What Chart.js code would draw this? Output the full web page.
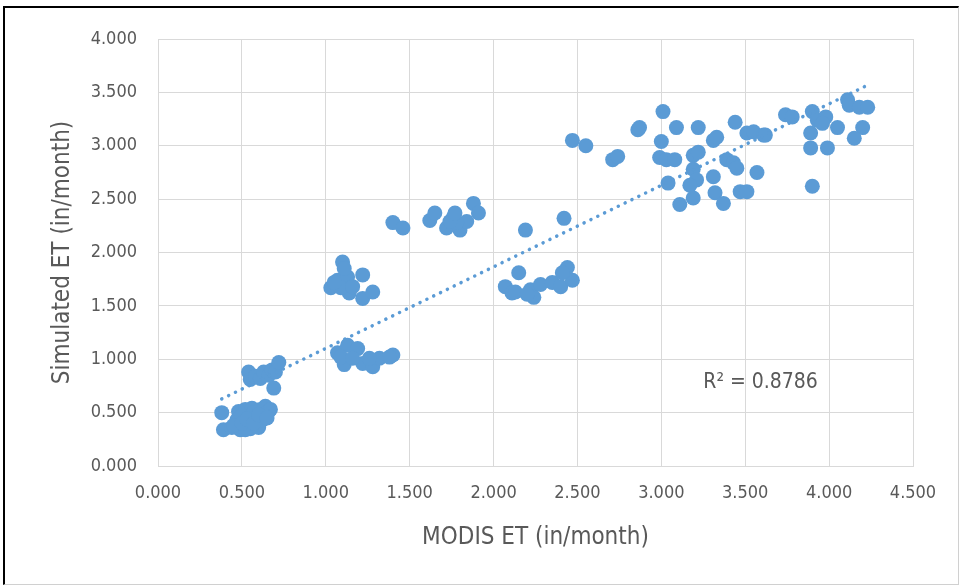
<!DOCTYPE html>
<html>
<head>
<meta charset="utf-8">
<script src="https://cdn.jsdelivr.net/npm/chart.js@4"></script>
<style>
  body { margin: 0; background: #fff; }
  #wrap { position: relative; width: 961px; height: 586px; }
  #frame {
    position: absolute; left: 3px; top: 6px; width: 953px; height: 576px;
    border-left: 2px solid #000; border-top: 2px solid #000;
    border-right: 1px solid #d0d0d0; border-bottom: 1px solid #d0d0d0;
    pointer-events: none;
  }
</style>
</head>
<body>
<div id="wrap">
  <canvas id="etChart" width="961" height="586"></canvas>
  <div id="frame"></div>
</div>
<script>
// MODIS ET vs simulated ET, in/month
const modisET = [
  0.38, 0.39, 0.44, 0.48, 0.49, 0.52, 0.54, 0.55, 0.56, 0.58, 0.60, 0.61, 0.62, 0.64, 0.66, 0.67,
  0.54, 0.55, 0.58, 0.61, 0.63, 0.66, 0.68, 0.70, 0.72, 0.69, 0.47, 0.52, 0.50, 0.57, 0.63,
  0.45, 0.50, 0.53, 0.57, 0.60, 0.65,
  1.10, 1.03, 1.07, 1.13, 1.14, 1.22, 1.22, 1.28, 1.09, 1.16, 1.11, 1.05,
  1.07, 1.13, 1.19, 1.11, 1.22, 1.28, 1.32, 1.40, 1.09, 1.16, 1.26, 1.38,
  1.40, 1.46, 1.62, 1.65, 1.72, 1.76, 1.80, 1.84, 1.88, 1.91, 1.78, 1.74, 1.77,
  2.15, 2.07, 2.11, 2.22, 2.24, 2.28, 2.35, 2.40, 2.44, 2.47, 2.41, 2.19, 2.42, 2.13, 2.20,
  2.47, 2.55, 2.71, 2.74, 2.86, 2.87, 3.01, 3.00, 2.99, 3.03, 3.08, 3.09, 3.19, 3.22, 3.22,
  3.31, 3.33, 3.39, 3.43, 3.45, 3.44, 3.51, 3.55, 3.61, 3.19, 3.21, 3.31, 3.57, 3.04, 3.17,
  3.19, 3.32, 3.37, 3.47, 3.51, 3.11, 3.62, 3.74, 3.78, 3.90, 3.93, 3.98, 3.96, 4.05, 3.89,
  3.89, 3.99, 4.11, 4.12, 4.18, 4.23, 4.20, 4.15, 3.90
];
const simulatedET = [
  0.50, 0.34, 0.36, 0.51, 0.34, 0.53, 0.38, 0.35, 0.54, 0.45, 0.36, 0.53, 0.43, 0.56, 0.51, 0.53,
  0.88, 0.81, 0.84, 0.82, 0.88, 0.85, 0.90, 0.88, 0.97, 0.73, 0.43, 0.34, 0.47, 0.50, 0.48,
  0.38, 0.40, 0.44, 0.40, 0.48, 0.45,
  1.91, 1.67, 1.74, 1.77, 1.62, 1.79, 1.57, 1.63, 1.67, 1.68, 1.85, 1.72,
  1.06, 1.13, 1.10, 0.95, 0.96, 0.93, 1.01, 1.04, 1.02, 1.01, 1.01, 1.02,
  2.28, 2.23, 2.30, 2.37, 2.23, 2.33, 2.21, 2.29, 2.46, 2.37, 2.28, 2.29, 2.37,
  1.81, 1.68, 1.62, 1.65, 1.58, 1.70, 1.72, 1.68, 1.86, 1.74, 1.81, 2.21, 2.32, 1.63, 1.61,
  3.05, 3.00, 2.87, 2.90, 3.15, 3.17, 3.32, 3.04, 2.89, 2.87, 2.87, 3.17, 2.91, 2.94, 3.17,
  3.05, 3.08, 2.87, 2.84, 2.79, 3.22, 3.12, 3.13, 3.10, 2.78, 2.68, 2.71, 2.75, 2.65, 2.63,
  2.51, 2.56, 2.46, 2.57, 2.57, 2.45, 3.10, 3.29, 3.27, 3.32, 3.24, 3.27, 3.21, 3.17, 3.12,
  2.98, 2.98, 3.43, 3.38, 3.36, 3.36, 3.17, 3.07, 2.62
];
const xTicks = [0, 0.5, 1, 1.5, 2, 2.5, 3, 3.5, 4, 4.5];
const yTicks = [0, 0.5, 1, 1.5, 2, 2.5, 3, 3.5, 4];
const r2Label = 'R² = 0.8786';

const points = modisET.map((x, i) => ({ x: x, y: simulatedET[i] }));

// Linear least-squares trendline, drawn over the data's x range
const n = modisET.length;
const mx = modisET.reduce((a, b) => a + b, 0) / n;
const my = simulatedET.reduce((a, b) => a + b, 0) / n;
let sxy = 0, sxx = 0;
modisET.forEach((x, i) => { sxy += (x - mx) * (simulatedET[i] - my); sxx += (x - mx) * (x - mx); });
const slope = sxy / sxx;
const intercept = my - slope * mx;
const xMin = Math.min(...modisET), xMax = Math.max(...modisET);
const trend = [
  { x: xMin, y: intercept + slope * xMin },
  { x: xMax, y: intercept + slope * xMax }
];

const FONT = "'DejaVu Sans Condensed', 'Liberation Sans', sans-serif";
const TEXT = '#595959';
const GRID = '#d9d9d9';

const r2Plugin = {
  id: 'r2Plugin',
  afterDatasetsDraw(chart) {
    const { ctx, scales } = chart;
    ctx.save();
    ctx.font = '21px ' + FONT;
    ctx.fillStyle = TEXT;
    ctx.textAlign = 'left';
    ctx.textBaseline = 'middle';
    ctx.fillText(r2Label, scales.x.getPixelForValue(3.25), scales.y.getPixelForValue(0.78));
    ctx.restore();
  }
};

new Chart(document.getElementById('etChart'), {
  type: 'scatter',
  data: {
    datasets: [
      {
        label: 'ET',
        data: points,
        backgroundColor: '#5b9bd5',
        borderWidth: 0,
        pointRadius: 7.5,
        order: 2
      },
      {
        type: 'line',
        label: 'Linear trend',
        data: trend,
        borderColor: '#5b9bd5',
        borderWidth: 3.5,
        borderDash: [0.1, 7.5],
        borderCapStyle: 'round',
        pointRadius: 0,
        fill: false,
        order: 1
      }
    ]
  },
  options: {
    responsive: false,
    animation: false,
    layout: { padding: { top: 39, right: 48, left: 0, bottom: 0 } },
    plugins: {
      legend: { display: false },
      tooltip: { enabled: false }
    },
    scales: {
      x: {
        type: 'linear',
        min: 0, max: 4.5,
        afterBuildTicks: s => { s.ticks = xTicks.map(v => ({ value: v })); },
        afterFit: s => { s.height = 120; },
        grid: { color: GRID, drawTicks: false },
        border: { color: GRID },
        ticks: {
          padding: 17,
          color: TEXT,
          font: { family: FONT, size: 18 },
          callback: v => v.toFixed(3)
        },
        title: {
          display: true,
          text: 'MODIS ET (in/month)',
          color: TEXT,
          font: { family: FONT, size: 24 },
          padding: { top: 0, bottom: 34 }
        }
      },
      y: {
        type: 'linear',
        min: 0, max: 4,
        afterBuildTicks: s => { s.ticks = yTicks.map(v => ({ value: v })); },
        afterFit: s => { s.width = 158; },
        grid: { color: GRID, drawTicks: false },
        border: { color: GRID },
        ticks: {
          padding: 21,
          color: TEXT,
          font: { family: FONT, size: 18 },
          callback: v => v.toFixed(3)
        },
        title: {
          display: true,
          text: 'Simulated ET (in/month)',
          color: TEXT,
          font: { family: FONT, size: 24 },
          padding: { top: 48, bottom: 0 }
        }
      }
    }
  },
  plugins: [r2Plugin]
});
</script>
</body>
</html>
